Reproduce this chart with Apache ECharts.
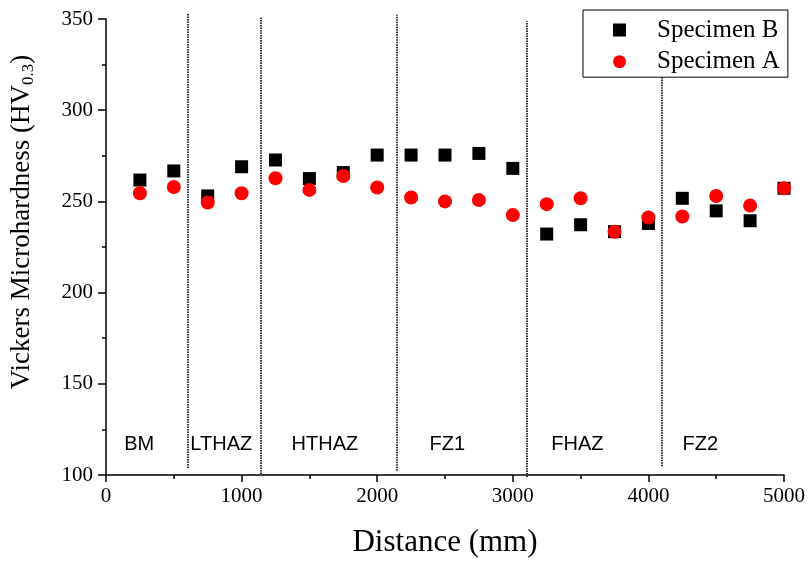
<!DOCTYPE html>
<html>
<head>
<meta charset="utf-8">
<script src="https://cdn.jsdelivr.net/npm/echarts@6/dist/echarts.min.js"></script>
<style>
html,body{margin:0;padding:0;background:#fff;}
#chart{width:809px;height:563px;}
</style>
</head>
<body>
<div id="chart"></div>
<script>
// Measurement positions (mm)
var distances = [250, 500, 750, 1000, 1250, 1500, 1750, 2000, 2250, 2500, 2750, 3000, 3250, 3500, 3750, 4000, 4250, 4500, 4750, 5000];
// Specimen B hardness (HV0.3)
var specimenB = [261.7, 266.7, 253.0, 269.0, 272.7, 262.5, 265.8, 275.4, 275.4, 275.4, 276.3, 268.1, 232.1, 237.2, 233.4, 237.9, 251.7, 244.8, 239.4, 257.2];
// Specimen A hardness (HV0.3)
var specimenA = [254.5, 257.9, 249.4, 254.5, 262.7, 256.3, 263.9, 257.6, 252.1, 250.0, 250.8, 242.5, 248.5, 251.7, 233.4, 241.2, 241.7, 253.0, 247.7, 257.2];
// Zone boundaries (mm) and their vertical extent (HV)
var boundaryX = [605, 1140, 2141, 3105, 4100];
var boundaryBottom = [103.8, 100.5, 102.3, 98.9, 104.8];
var boundaryTop = [353.2, 351.0, 352.3, 348.7, 345.0];
// Zone labels
var zoneNames = ['BM', 'LTHAZ', 'HTHAZ', 'FZ1', 'FHAZ', 'FZ2'];
var zoneX = [245, 850, 1614, 2517, 3476, 4383];
var zoneY = 117;
// Axis ticks
var xTicks = [0, 1000, 2000, 3000, 4000, 5000];
var yTicks = [100, 150, 200, 250, 300, 350];

var serif = '"Liberation Serif", "DejaVu Serif", serif';
var sans = '"Liberation Sans", Arial, sans-serif';

function pairs(xs, ys) { return xs.map(function (x, i) { return [x, ys[i]]; }); }

var chart = echarts.init(document.getElementById('chart'), null, {renderer: 'canvas'});

var boundaryLines = boundaryX.map(function (x, i) {
  return {coords: [[x, boundaryBottom[i]], [x, boundaryTop[i]]]};
});

var option = {
  backgroundColor: '#fff',
  animation: false,
  grid: {left: 106, right: 25, top: 19, bottom: 86, containLabel: false},
  xAxis: {
    type: 'value',
    min: xTicks[0], max: xTicks[xTicks.length - 1], interval: 1000,
    name: 'Distance (mm)', nameLocation: 'middle', nameGap: 52,
    nameTextStyle: {fontFamily: serif, fontSize: 31, color: '#000'},
    axisLine: {show: true, onZero: false, lineStyle: {color: '#000', width: 1.5}},
    axisTick: {show: true, inside: false, length: 7, lineStyle: {color: '#000', width: 1.5}},
    minorTick: {show: true, splitNumber: 2, length: 4, lineStyle: {color: '#000', width: 1.5}},
    axisLabel: {fontFamily: serif, fontSize: 21, color: '#000', margin: 11,
      formatter: function (v) { return String(v); }},
    splitLine: {show: false}
  },
  yAxis: {
    type: 'value',
    min: yTicks[0], max: yTicks[yTicks.length - 1], interval: 50,
    axisLine: {show: true, onZero: false, lineStyle: {color: '#000', width: 1.5}},
    axisTick: {show: true, inside: false, length: 8, lineStyle: {color: '#000', width: 1.5}},
    minorTick: {show: true, splitNumber: 2, length: 4, lineStyle: {color: '#000', width: 1.5}},
    axisLabel: {fontFamily: serif, fontSize: 21, color: '#000', margin: 13,
      formatter: function (v) { return String(v); }},
    splitLine: {show: false}
  },
  legend: {
    data: ['Specimen B', 'Specimen A'],
    orient: 'vertical',
    left: 583, top: 10,
    padding: [7.5, 8, 3, 30],
    itemGap: 6.7,
    itemWidth: 13, itemHeight: 13,
    borderColor: '#000', borderWidth: 1,
    backgroundColor: '#fff',
    textStyle: {fontFamily: serif, fontSize: 25, lineHeight: 25, color: '#000', padding: [0, 0, 0, 26]}
  },
  graphic: [{
    type: 'text',
    x: 22, y: 222,
    rotation: Math.PI / 2,
    style: {
      text: '{a|Vickers Microhardness (HV}{s|0.3}{a|)}',
      align: 'center', verticalAlign: 'middle',
      rich: {
        a: {fontFamily: serif, fontSize: 27, lineHeight: 30, fill: '#000', verticalAlign: 'middle'},
        s: {fontFamily: serif, fontSize: 17, lineHeight: 17, fill: '#000', verticalAlign: 'bottom'}
      }
    }
  }],
  series: [
    {
      name: 'Specimen B', type: 'scatter', symbol: 'rect', symbolSize: 13,
      itemStyle: {color: '#000', opacity: 1},
      data: pairs(distances, specimenB), z: 3
    },
    {
      name: 'Specimen A', type: 'scatter', symbol: 'circle', symbolSize: 14,
      itemStyle: {color: '#ff0000', opacity: 1},
      data: pairs(distances, specimenA), z: 4
    },
    {
      name: 'boundaries', type: 'lines', coordinateSystem: 'cartesian2d',
      clip: false, silent: true, z: 2,
      lineStyle: {color: '#333', width: 2, type: [1.5, 1], opacity: 1},
      data: boundaryLines
    },
    {
      name: 'zones', type: 'scatter', symbolSize: 0.1, silent: true, z: 5,
      itemStyle: {color: 'transparent', opacity: 1},
      label: {show: true, position: 'inside', formatter: function (p) { return p.data[2]; },
        fontFamily: sans, fontSize: 20, color: '#000', opacity: 1},
      data: zoneNames.map(function (n, i) { return [zoneX[i], zoneY, n]; })
    }
  ]
};
chart.setOption(option);
</script>
</body>
</html>
